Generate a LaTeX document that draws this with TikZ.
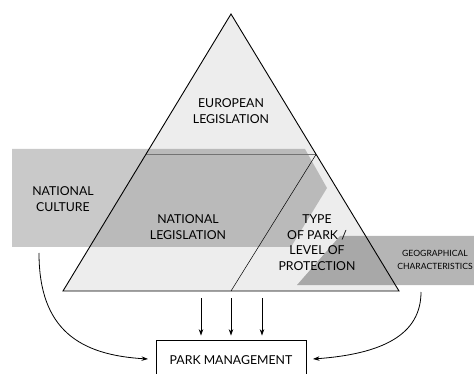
\documentclass[tikz,border=0pt]{standalone}
\usepackage{fontspec}
\setmainfont{Lato}
\usetikzlibrary{arrows.meta}
\tikzset{
  lbl/.style={align=center, font=\fontsize{12.3}{15.5}\selectfont, inner sep=0pt},
  smalllbl/.style={align=center, font=\fontsize{8.6}{13}\selectfont, inner sep=0pt},
  arr/.style={line width=0.8pt, -{Stealth[length=6.5pt,width=4.5pt]}},
  band/.style={fill=black, fill opacity=0.21, draw=none},
  geoband/.style={fill=black, fill opacity=0.29, draw=none},
  pmbox/.style={draw, line width=0.8pt, minimum width=150pt, minimum height=40pt, inner sep=0pt}
}
\begin{document}
\begin{tikzpicture}[x=1pt,y=-1pt]
\useasboundingbox (0,0) rectangle (474,374);
\clip (0,0) rectangle (474,374);
% key points
\coordinate (apex) at (231,14);
\coordinate (bl) at (63,291);
\coordinate (br) at (399,291);
\coordinate (bm) at (231,291);
\coordinate (dl) at (146,154.5);
\coordinate (dr) at (316,154.5);
% triangle fill
\fill[black!7] (apex) -- (br) -- (bl) -- cycle;
% national band with chevron
\path[band] (12,149) -- (305,149) -- (327,188) -- (291,247) -- (12,247) -- cycle;
% geographical band
\path[geoband] (340,236) -- (474,236) -- (474,285) -- (297,285) -- cycle;
% lines
\draw[black!55, line width=0.8pt] (dl) -- (dr);
\draw[line width=0.5pt] (dr) -- (bm);
\draw[line width=0.9pt, line join=miter] (apex) -- (br) -- (bl) -- cycle;
% texts
\node[lbl] (eu) at (231,111) {EUROPEAN\\LEGISLATION};
\node[lbl] (nc) at (63,199) {NATIONAL\\CULTURE};
\node[lbl] (nl) at (188,227) {NATIONAL\\LEGISLATION};
\node[lbl] (tp) at (317,242.5) {TYPE\\OF PARK /\\LEVEL OF\\PROTECTION};
\node[smalllbl] (geo) at (435,259.5) {GEOGRAPHICAL\\CHARACTERISTICS};
% park management box
\node[pmbox] (pm) at (231,360) {};
\node[lbl] (pmt) at (231,360) {PARK MANAGEMENT};
% arrows
\coordinate (a1s) at (201,298);
\coordinate (a2s) at (231,298);
\coordinate (a3s) at (262,298);
\draw[arr, shorten >=4pt] (a1s) -- (a1s |- pm.north);
\draw[arr, shorten >=4pt] (a2s) -- (a2s |- pm.north);
\draw[arr, shorten >=4pt] (a3s) -- (a3s |- pm.north);
\coordinate (lcs) at (39,253);
\coordinate (rcs) at (421,292);
\coordinate (lct) at (148,359);
\coordinate (rct) at (313,359);
\draw[arr] (lcs) .. controls (39,330) and (80,355) .. (lct);
\draw[arr] (rcs) .. controls (421,335) and (382,354) .. (rct);
\end{tikzpicture}
\end{document}
